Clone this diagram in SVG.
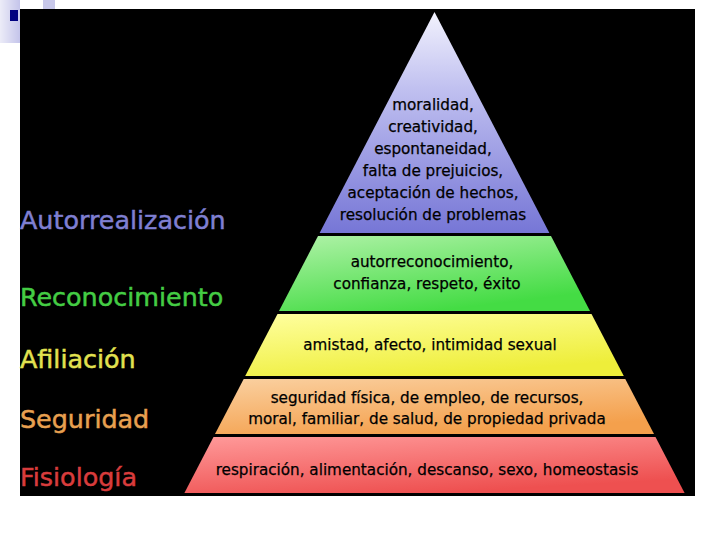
<svg xmlns="http://www.w3.org/2000/svg" width="720" height="540" viewBox="0 0 720 540">
<defs>
<linearGradient id="gBar" x1="0" y1="0" x2="1" y2="0"><stop offset="0" stop-color="#ececf8"/><stop offset="1" stop-color="#c4c4ea"/></linearGradient>
<linearGradient id="gBlue" x1="0" y1="0" x2="0" y2="1"><stop offset="0" stop-color="#f2f2fd"/><stop offset="0.35" stop-color="#c0c0f0"/><stop offset="1" stop-color="#7676d6"/></linearGradient>
<linearGradient id="gGreen" x1="0" y1="0" x2="0.5" y2="1"><stop offset="0" stop-color="#b0f2a8"/><stop offset="1" stop-color="#44dc44"/></linearGradient>
<linearGradient id="gYellow" x1="0" y1="0" x2="0.5" y2="1"><stop offset="0" stop-color="#ffffa0"/><stop offset="1" stop-color="#eeee3a"/></linearGradient>
<linearGradient id="gOrange" x1="0" y1="0" x2="0.5" y2="1"><stop offset="0" stop-color="#fad0a0"/><stop offset="1" stop-color="#f4a04c"/></linearGradient>
<linearGradient id="gRed" x1="0" y1="0" x2="0.5" y2="1"><stop offset="0" stop-color="#ff9a9a"/><stop offset="1" stop-color="#ee5050"/></linearGradient>
</defs>
<style>
.lbl{font-family:"DejaVu Sans","Liberation Sans",sans-serif;font-size:25.4px;stroke-width:0.5px}
.t{font-family:"DejaVu Sans","Liberation Sans",sans-serif;font-size:15.2px;fill:#000;stroke:#000;stroke-width:0.25px;text-anchor:middle}
</style>
<rect x="0" y="0" width="720" height="540" fill="#ffffff"/>
<rect x="0" y="0" width="20" height="43" fill="url(#gBar)"/>
<rect x="43" y="0" width="12" height="9" fill="#c8c8ea"/>
<rect x="10" y="10" width="8" height="11" fill="#000080"/>
<rect x="20" y="9" width="675" height="487" fill="#000000"/>

<g id="level-autorrealizacion">
<polygon points="434.5,12 549.4,233 319.6,233" fill="url(#gBlue)"/>
<text class="t" x="433" y="110">moralidad,</text>
<text class="t" x="433" y="132">creatividad,</text>
<text class="t" x="433" y="154">espontaneidad,</text>
<text class="t" x="433" y="176">falta de prejuicios,</text>
<text class="t" x="433" y="198">aceptación de hechos,</text>
<text class="t" x="433" y="220">resolución de problemas</text>
</g>
<g id="level-reconocimiento">
<polygon points="318,236 551,236 590,311 279,311" fill="url(#gGreen)"/>
<text class="t" x="432" y="267">autorreconocimiento,</text>
<text class="t" x="427" y="289">confianza, respeto, éxito</text>
</g>
<g id="level-afiliacion">
<polygon points="277.5,314 591.5,314 623.8,376 245.2,376" fill="url(#gYellow)"/>
<text class="t" x="430" y="350">amistad, afecto, intimidad sexual</text>
</g>
<g id="level-seguridad">
<polygon points="243.7,379 625.3,379 654,434 215,434" fill="url(#gOrange)"/>
<text class="t" x="427" y="403">seguridad física, de empleo, de recursos,</text>
<text class="t" x="427" y="424">moral, familiar, de salud, de propiedad privada</text>
</g>
<g id="level-fisiologia">
<polygon points="213.5,437 655.5,437 684.6,493 184.4,493" fill="url(#gRed)"/>
<text class="t" x="427" y="475">respiración, alimentación, descanso, sexo, homeostasis</text>
</g>

<g id="labels">
<text class="lbl" x="20" y="229" fill="#7f7fd2" stroke="#7f7fd2">Autorrealización</text>
<text class="lbl" x="20" y="306" fill="#44cc44" stroke="#44cc44">Reconocimiento</text>
<text class="lbl" x="20" y="368" fill="#e2e250" stroke="#e2e250">Afiliación</text>
<text class="lbl" x="20" y="428" fill="#e8a050" stroke="#e8a050">Seguridad</text>
<text class="lbl" x="20" y="486" fill="#d83c3c" stroke="#d83c3c">Fisiología</text>
</g>
<g id="connectors"/>
</svg>
